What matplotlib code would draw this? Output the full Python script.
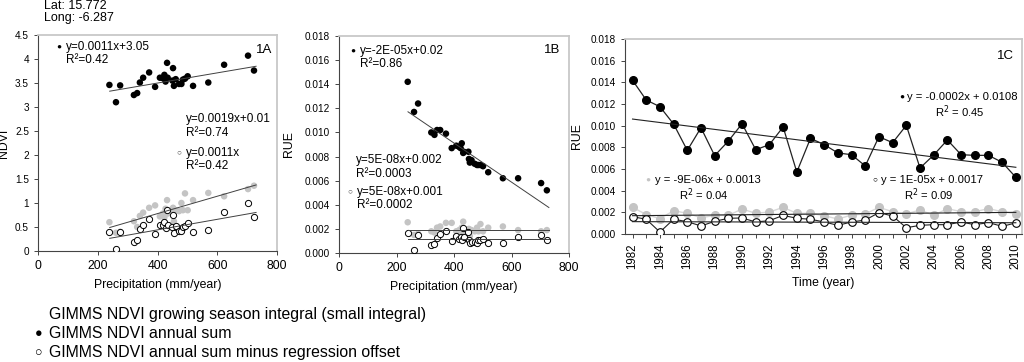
import matplotlib
matplotlib.use('Agg')
import matplotlib.pyplot as plt
import numpy as np

plt.rcParams['font.family'] = ['Liberation Sans', 'DejaVu Sans']

# panel 1A / 1B : one point per year, sorted by precipitation
precip = [239, 261, 275, 321, 332, 341, 352, 372, 392, 408, 418, 423, 427, 432, 434,
          450, 452, 455, 461, 472, 480, 485, 492, 501, 519, 570, 623, 703, 723]
ndvi_sum = [3.46, 3.10, 3.45, 3.25, 3.29, 3.51, 3.61, 3.72, 3.42, 3.61, 3.60, 3.67, 3.53, 3.92, 3.61,
            3.55, 3.81, 3.44, 3.58, 3.48, 3.48, 3.57, 3.59, 3.64, 3.44, 3.51, 3.88, 4.07, 3.76]
ndvi_small = [0.60, 0.38, 0.40, 0.62, 0.50, 0.73, 0.80, 0.90, 0.95, 0.72, 0.78, 0.70, 0.88, 1.06, 0.78,
              0.85, 0.90, 0.62, 0.85, 0.83, 1.00, 0.85, 1.20, 0.85, 1.06, 1.21, 1.14, 1.29, 1.36]
ndvi_offset = [0.40, 0.04, 0.39, 0.19, 0.23, 0.45, 0.54, 0.66, 0.36, 0.55, 0.54, 0.61, 0.47, 0.86, 0.55,
               0.49, 0.76, 0.38, 0.52, 0.42, 0.42, 0.51, 0.53, 0.58, 0.39, 0.44, 0.82, 1.00, 0.71]

rue_sum = [0.0142, 0.0117, 0.0124, 0.0100, 0.0098, 0.0102, 0.0102, 0.0099, 0.0087, 0.0089, 0.0088, 0.0087,
           0.0091, 0.0083, 0.0084, 0.0084, 0.0078, 0.0075, 0.0077, 0.0074, 0.0073, 0.0073, 0.0073, 0.0072,
           0.0067, 0.0062, 0.0062, 0.0058, 0.0052]
rue_small = [0.00255, 0.0015, 0.0016, 0.0018, 0.0017, 0.0021, 0.0022, 0.0025, 0.0025, 0.0018, 0.0019, 0.0017,
             0.0021, 0.0026, 0.0018, 0.0019, 0.0020, 0.0014, 0.0019, 0.0018, 0.0021, 0.0018, 0.0024, 0.0018,
             0.0021, 0.0022, 0.0019, 0.0018, 0.0019]
rue_offset = [0.00163, 0.00025, 0.00147, 0.00066, 0.00075, 0.00127, 0.0016, 0.00182, 0.00097, 0.0014, 0.0012,
              0.0013, 0.0011, 0.00205, 0.0013, 0.00177, 0.00108, 0.00085, 0.0009, 0.0009, 0.00085, 0.00108,
              0.0011, 0.0012, 0.0008, 0.0008, 0.00135, 0.0015, 0.00108]

# panel 1C : RUE time series
years = list(range(1982, 2011))
rue_sum_t = [0.01419, 0.01237, 0.01175, 0.01015, 0.00772, 0.00981, 0.00723, 0.00858, 0.01018, 0.00778,
             0.00825, 0.00988, 0.00572, 0.00883, 0.00825, 0.00748, 0.00732, 0.00628, 0.00898, 0.00843,
             0.01003, 0.00609, 0.00729, 0.00868, 0.00732, 0.00726, 0.00726, 0.00662, 0.00523]
rue_small_t = [0.00246, 0.0018, 0.00141, 0.00215, 0.00191, 0.0015, 0.00172, 0.00172, 0.00231, 0.00191,
               0.00203, 0.00246, 0.00191, 0.00191, 0.00169, 0.00138, 0.00175, 0.00185, 0.00246, 0.00206,
               0.00185, 0.00222, 0.00172, 0.00234, 0.00206, 0.00206, 0.00234, 0.00206, 0.00187]
rue_offset_t = [0.0016, 0.00136, 0.00018, 0.00136, 0.00114, 0.00074, 0.00117, 0.00145, 0.00148, 0.00111,
                0.00123, 0.00172, 0.00145, 0.00136, 0.00111, 0.0008, 0.00111, 0.00129, 0.00197, 0.00166,
                0.00058, 0.0008, 0.00086, 0.00086, 0.00111, 0.00086, 0.00105, 0.00071, 0.00102]

# trend lines (slope, intercept) as drawn in the figure
trend_a = [(0.00106, 3.075), (0.00181, 0.055), (0.0011, 0.0)]
trend_b = [(-1.62e-5, 0.0156), (0.0, 0.0019), (0.0, 0.00114)]
trend_c = [(-0.000159, 0.01061), (1.1e-5, 0.00169), (-3.6e-6, 0.00114)]   # x = year - 1982

GRAY = '#c4c4c4'
LINE = '#404040'
W, H = 1024, 362

fig = plt.figure(figsize=(10.24, 3.62), dpi=100)


def box(l, t, r, b):
    return [l / W, 1 - b / H, (r - l) / W, (b - t) / H]


def txt(x, y, s, **kw):
    fig.text(x / W, 1 - y / H, s, **kw)


def style(ax):
    for side in ('top', 'right'):
        ax.spines[side].set_color('#c8c8c8')
        ax.spines[side].set_linewidth(1.3)
    for side in ('left', 'bottom'):
        ax.spines[side].set_color('#444444')
        ax.spines[side].set_linewidth(0.8)
    ax.tick_params(direction='out', length=3, width=0.7, color='#444444')


ax1 = fig.add_axes(box(38, 35, 277, 251))
ax2 = fig.add_axes(box(339, 36, 569, 253))
ax3 = fig.add_axes(box(625, 39, 1022, 234))

xs = np.array([240, 730])
for ax, series, trends in ((ax1, (ndvi_small, ndvi_offset, ndvi_sum), trend_a),
                           (ax2, (rue_small, rue_offset, rue_sum), trend_b)):
    small, offs, total = series
    ax.scatter(precip, small, s=22, color=GRAY, edgecolors='none', zorder=2)
    ax.scatter(precip, offs, s=20, facecolors='white', edgecolors='black', linewidths=0.7, zorder=3)
    ax.scatter(precip, total, s=22, color='black', edgecolors='none', zorder=3)
    for slope, icpt in trends:
        ax.plot(xs, slope * xs + icpt, color=LINE, lw=0.7, zorder=4)
    ax.set_xlim(0, 800)
    ax.set_xticks([0, 200, 400, 600, 800])
    ax.tick_params(axis='x', labelsize=8.8)
    ax.tick_params(axis='y', labelsize=7.2)
    ax.set_xlabel('Precipitation (mm/year)', fontsize=8.8, labelpad=5)
    style(ax)

ax1.set_ylim(0, 4.5)
ax1.set_yticks(np.arange(0, 4.6, 0.5))
ax1.set_yticklabels(['0', '0.5', '1', '1.5', '2', '2.5', '3', '3.5', '4', '4.5'])
ax1.set_ylabel('NDVI', fontsize=8.8)
ax1.yaxis.set_label_coords(-0.117, 0.5)

for ax in (ax2, ax3):
    ax.set_ylim(0, 0.018)
    ax.set_yticks(np.arange(0, 0.0181, 0.002))
    ax.set_yticklabels(['%.3f' % v for v in np.arange(0, 0.0181, 0.002)])
    ax.set_ylabel('RUE', fontsize=8.8)
ax2.yaxis.set_label_coords(-0.191, 0.5)
ax3.yaxis.set_label_coords(-0.106, 0.5)

# panel 1C
ax3.plot(years, rue_small_t, color='#d8d8d8', lw=1, marker='o', ms=5.5,
         mfc=GRAY, mec=GRAY, zorder=2)
ax3.plot(years, rue_offset_t, color='#222222', lw=0.8, marker='o', ms=5.5,
         mfc='white', mec='black', mew=0.8, zorder=3)
ax3.plot(years, rue_sum_t, color='#222222', lw=0.9, marker='o', ms=5.5,
         mfc='black', mec='black', zorder=3)
yr = np.array([1982, 2010])
for slope, icpt in trend_c:
    ax3.plot(yr, slope * (yr - 1982) + icpt, color='#222222', lw=0.8, zorder=4)
ax3.set_xlim(1981.45, 2010.45)
ax3.set_xticks(years[::2])
ax3.set_xticks(years, minor=True)
ax3.set_xticklabels([str(y) for y in years[::2]], rotation=90, fontsize=8.3)
ax3.tick_params(axis='x', which='minor', length=3, width=0.7, color='#444444')
ax3.tick_params(axis='y', labelsize=7.2)
ax3.set_xlabel('Time (year)', fontsize=8.8, labelpad=6)
style(ax3)

# annotations
fs = 8.5
fc = 8.1
txt(44, 6, 'Lat: 15.772', fontsize=9, va='center')
txt(44, 18, 'Long: -6.287', fontsize=9, va='center')

txt(59, 47, '\u25cf', fontsize=6, va='center', ha='center')
txt(66, 47, 'y=0.0011x+3.05', fontsize=fs, va='center')
txt(66, 60, 'R\u00b2=0.42', fontsize=fs, va='center')
txt(272, 50, '1A', fontsize=9.5, va='center', ha='right')
txt(186, 119, 'y=0.0019x+0.01', fontsize=fs, va='center')
txt(186, 133, 'R\u00b2=0.74', fontsize=fs, va='center')
txt(179, 153, '\u25cb', fontsize=6, va='center', ha='center', color='#555555')
txt(186, 153, 'y=0.0011x', fontsize=fs, va='center')
txt(186, 166, 'R\u00b2=0.42', fontsize=fs, va='center')

txt(353, 51, '\u25cf', fontsize=6, va='center', ha='center')
txt(360, 51, 'y=-2E-05x+0.02', fontsize=fs, va='center')
txt(360, 64, 'R\u00b2=0.86', fontsize=fs, va='center')
txt(560, 50, '1B', fontsize=9.5, va='center', ha='right')
txt(356, 160, 'y=5E-08x+0.002', fontsize=fs, va='center')
txt(356, 174, 'R\u00b2=0.0003', fontsize=fs, va='center')
txt(350, 192, '\u25cb', fontsize=6, va='center', ha='center', color='#555555')
txt(357, 192, 'y=5E-08x+0.001', fontsize=fs, va='center')
txt(357, 205, 'R\u00b2=0.0002', fontsize=fs, va='center')

txt(1014, 56, '1C', fontsize=9.5, va='center', ha='right')
txt(902, 97, '\u25cf', fontsize=6, va='center', ha='center')
txt(907, 97, 'y = -0.0002x + 0.0108', fontsize=fc, va='center')
txt(935, 112, 'R$^2$ = 0.45', fontsize=fc, va='center')
txt(648, 180, '\u25cf', fontsize=6, va='center', ha='center', color=GRAY)
txt(655, 180, 'y = -9E-06x + 0.0013', fontsize=fc, va='center')
txt(679, 195, 'R$^2$ = 0.04', fontsize=fc, va='center')
txt(875, 180, '\u25cb', fontsize=6, va='center', ha='center')
txt(881, 180, 'y = 1E-05x + 0.0017', fontsize=fc, va='center')
txt(904, 195, 'R$^2$ = 0.09', fontsize=fc, va='center')

# legend below the panels
txt(49, 315, 'GIMMS NDVI growing season integral (small integral)', fontsize=11.4, va='center')
txt(39, 334, '\u25cf', fontsize=9, va='center', ha='center')
txt(49, 334, 'GIMMS NDVI annual sum', fontsize=11.4, va='center')
txt(39, 353, '\u25cb', fontsize=9, va='center', ha='center')
txt(49, 353, 'GIMMS NDVI annual sum minus regression offset', fontsize=11.4, va='center')

fig.savefig('out.png', dpi=100)
